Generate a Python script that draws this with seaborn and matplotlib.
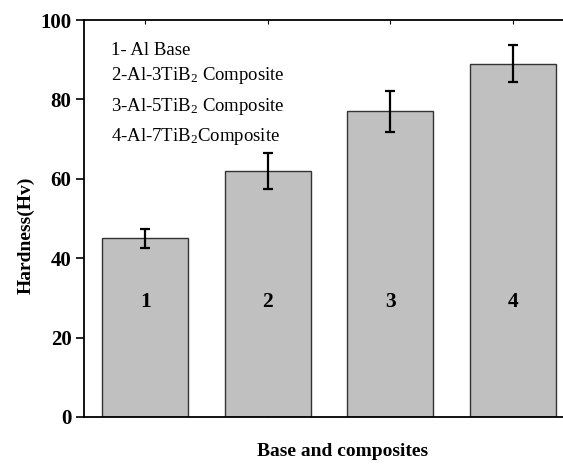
import seaborn as sns
import matplotlib.pyplot as plt
import pandas as pd

# dados
amostras = ['1', '2', '3', '4']
dureza = [45, 62, 77, 89]
erro = [2.4, 4.5, 5.1, 4.7]
legenda = ['1- Al Base',
           r'2-Al-3TiB$_2$ Composite',
           r'3-Al-5TiB$_2$ Composite',
           r'4-Al-7TiB$_2$Composite']

df = pd.DataFrame({'amostra': amostras, 'dureza': dureza})

sns.set_style('ticks')
plt.rcParams['font.family'] = ['Liberation Serif', 'DejaVu Serif']
plt.rcParams['mathtext.fontset'] = 'custom'
plt.rcParams['mathtext.rm'] = 'Liberation Serif'
plt.rcParams['mathtext.it'] = 'Liberation Serif:italic'
plt.rcParams['text.color'] = 'black'
plt.rcParams['axes.labelcolor'] = 'black'
plt.rcParams['xtick.color'] = 'black'
plt.rcParams['ytick.color'] = 'black'

fig = plt.figure(figsize=(5.63, 4.66), dpi=100)
ax = fig.add_axes([84/563, 49/466, 490/563, 397/466])

sns.barplot(data=df, x='amostra', y='dureza', color='#c0c0c0',
            edgecolor='#333333', linewidth=1.0, width=0.7, saturation=1, ax=ax)
ax.errorbar(range(len(dureza)), dureza, yerr=erro, fmt='none',
            ecolor='black', elinewidth=1.6, capsize=3.5, capthick=1.6)

# números dentro das barras
for i, a in enumerate(amostras):
    ax.text(i, 29, a, ha='center', va='center', fontsize=15.5, fontweight='bold')

# legenda em texto
ys = [0.922, 0.86, 0.782, 0.707]
for t, yy in zip(legenda, ys):
    ax.text(0.055, yy, t, transform=ax.transAxes, fontsize=13.5, va='center')

ax.set_xlim(-0.5, 3.5)
ax.set_ylim(0, 100)
ax.set_yticks([0, 20, 40, 60, 80, 100])
ax.set_xlabel('Base and composites', fontsize=14, fontweight='bold')
ax.set_ylabel('Hardness(Hv)', fontsize=14, fontweight='bold')
ax.xaxis.set_label_coords(0.527, -0.065)
ax.yaxis.set_label_coords(-0.10, 0.458)
ax.tick_params(axis='x', direction='in', top=True, length=3, labelbottom=False)
ax.tick_params(axis='y', direction='out', length=6, width=1.2, labelsize=15, pad=3)
for lab in ax.get_yticklabels():
    lab.set_fontweight('bold')
for s in ax.spines.values():
    s.set_linewidth(1.3)
    s.set_color('black')

plt.savefig('out.png', dpi=100)
